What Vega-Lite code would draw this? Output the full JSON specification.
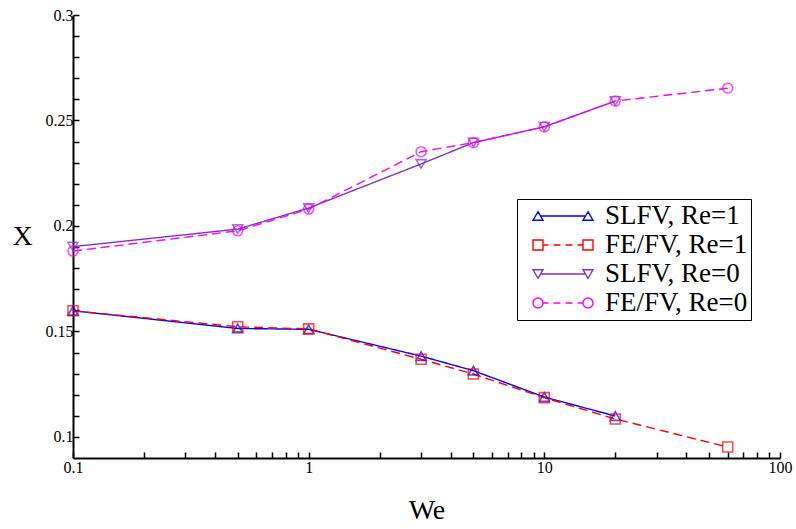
{
  "$schema": "https://vega.github.io/schema/vega-lite/v6.json",
  "width": 707,
  "height": 443,
  "autosize": "none",
  "padding": {"left": 73, "top": 15, "right": 16, "bottom": 71},
  "background": "white",
  "config": {
    "view": {"stroke": null},
    "font": "Liberation Serif",
    "axis": {
      "grid": false,
      "domainColor": "black",
      "domainWidth": 2,
      "tickColor": "black",
      "tickWidth": 1.5,
      "labelColor": "black",
      "labelFont": "Liberation Serif",
      "labelFontSize": 16,
      "titleFont": "Liberation Serif",
      "titleFontSize": 28,
      "titleFontWeight": "normal",
      "titleColor": "black",
      "labelOverlap": false,
      "labelFlush": false
    }
  },
  "data": {
    "values": [
      {"We": 0.1, "X": 0.1598, "series": "SLFV, Re=1"},
      {"We": 0.5, "X": 0.1514, "series": "SLFV, Re=1"},
      {"We": 1, "X": 0.1510, "series": "SLFV, Re=1"},
      {"We": 3, "X": 0.1383, "series": "SLFV, Re=1"},
      {"We": 5, "X": 0.1314, "series": "SLFV, Re=1"},
      {"We": 10, "X": 0.1189, "series": "SLFV, Re=1"},
      {"We": 20, "X": 0.1099, "series": "SLFV, Re=1"},
      {"We": 0.1, "X": 0.1598, "series": "FE/FV, Re=1"},
      {"We": 0.5, "X": 0.1522, "series": "FE/FV, Re=1"},
      {"We": 1, "X": 0.1512, "series": "FE/FV, Re=1"},
      {"We": 3, "X": 0.1368, "series": "FE/FV, Re=1"},
      {"We": 5, "X": 0.1298, "series": "FE/FV, Re=1"},
      {"We": 10, "X": 0.1186, "series": "FE/FV, Re=1"},
      {"We": 20, "X": 0.1085, "series": "FE/FV, Re=1"},
      {"We": 60, "X": 0.0952, "series": "FE/FV, Re=1"},
      {"We": 0.1, "X": 0.1902, "series": "SLFV, Re=0"},
      {"We": 0.5, "X": 0.1985, "series": "SLFV, Re=0"},
      {"We": 1, "X": 0.2085, "series": "SLFV, Re=0"},
      {"We": 3, "X": 0.2294, "series": "SLFV, Re=0"},
      {"We": 5, "X": 0.2395, "series": "SLFV, Re=0"},
      {"We": 10, "X": 0.2470, "series": "SLFV, Re=0"},
      {"We": 20, "X": 0.2592, "series": "SLFV, Re=0"},
      {"We": 0.1, "X": 0.1881, "series": "FE/FV, Re=0"},
      {"We": 0.5, "X": 0.1977, "series": "FE/FV, Re=0"},
      {"We": 1, "X": 0.2080, "series": "FE/FV, Re=0"},
      {"We": 3, "X": 0.2352, "series": "FE/FV, Re=0"},
      {"We": 5, "X": 0.2395, "series": "FE/FV, Re=0"},
      {"We": 10, "X": 0.2470, "series": "FE/FV, Re=0"},
      {"We": 20, "X": 0.2592, "series": "FE/FV, Re=0"},
      {"We": 60, "X": 0.2653, "series": "FE/FV, Re=0"}
    ]
  },
  "encoding": {
    "x": {
      "field": "We",
      "type": "quantitative",
      "scale": {"type": "log", "domain": [0.1, 100], "nice": false},
      "axis": {
        "title": "We",
        "values": [0.1, 0.2, 0.3, 0.4, 0.5, 0.6, 0.7, 0.8, 0.9, 1, 2, 3, 4, 5, 6, 7, 8, 9, 10, 20, 30, 40, 50, 60, 70, 80, 90, 100],
        "format": "~g",
        "labelExpr": "indexof([0.1, 1, 10, 100], datum.value) >= 0 ? datum.label : ''",
        "tickSize": -6,
        "labelPadding": 7,
        "titleY": 52,
        "titleBaseline": "middle"
      }
    },
    "y": {
      "field": "X",
      "type": "quantitative",
      "scale": {"domain": [0.09, 0.3], "nice": false, "zero": false},
      "axis": {
        "title": "X",
        "values": [0.1, 0.11, 0.12, 0.13, 0.14, 0.15, 0.16, 0.17, 0.18, 0.19, 0.2, 0.21, 0.22, 0.23, 0.24, 0.25, 0.26, 0.27, 0.28, 0.29, 0.3],
        "labelExpr": "round(datum.value * 100) % 5 == 0 ? format(datum.value, '.2~f') : ''",
        "tickSize": -6,
        "labelPadding": 6,
        "titleAngle": 0,
        "titleX": -51,
        "titleY": 221.5,
        "titleAlign": "center",
        "titleBaseline": "middle"
      }
    }
  },
  "layer": [
    {
      "mark": {"type": "line", "strokeWidth": 1.4},
      "encoding": {
        "color": {
          "field": "series",
          "type": "nominal",
          "scale": {
            "domain": ["SLFV, Re=1", "FE/FV, Re=1", "SLFV, Re=0", "FE/FV, Re=0"],
            "range": ["#0000ff", "#ff0000", "#7a35c8", "#ff00ff"]
          },
          "legend": null
        },
        "strokeDash": {
          "field": "series",
          "type": "nominal",
          "scale": {
            "domain": ["SLFV, Re=1", "FE/FV, Re=1", "SLFV, Re=0", "FE/FV, Re=0"],
            "range": [[1, 0], [9, 5], [1, 0], [9, 5]]
          },
          "legend": null
        }
      }
    },
    {
      "mark": {"type": "point", "filled": false, "size": 100, "strokeWidth": 1.6},
      "encoding": {
        "color": {
          "field": "series",
          "type": "nominal",
          "scale": {
            "domain": ["SLFV, Re=1", "FE/FV, Re=1", "SLFV, Re=0", "FE/FV, Re=0"],
            "range": ["#0000ff", "#ff0000", "#7a35c8", "#ff00ff"]
          },
          "legend": null
        },
        "shape": {
          "field": "series",
          "type": "nominal",
          "scale": {
            "domain": ["SLFV, Re=1", "FE/FV, Re=1", "SLFV, Re=0", "FE/FV, Re=0"],
            "range": ["triangle-up", "square", "triangle-down", "circle"]
          },
          "legend": null
        }
      }
    },
    {
      "transform": [{"filter": "false"}],
      "mark": {"type": "point", "filled": false, "size": 2500, "strokeWidth": 1.4},
      "encoding": {
        "color": {
          "field": "series",
          "type": "nominal",
          "scale": {
            "domain": ["SLFV, Re=1", "FE/FV, Re=1", "SLFV, Re=0", "FE/FV, Re=0"],
            "range": ["#0000ff", "#ff0000", "#7a35c8", "#ff00ff"]
          },
          "legend": {
            "title": null,
            "orient": "none",
            "legendX": 444,
            "legendY": 184,
            "symbolSize": 2500,
            "symbolOffset": 17,
            "symbolStrokeWidth": 1.4,
            "symbolFillColor": "transparent",
            "symbolOpacity": 1,
            "labelOffset": 16,
            "labelFont": "Liberation Serif",
            "labelFontSize": 27,
            "labelColor": "black",
            "labelBaseline": "middle",
            "labelLimit": 400,
            "clipHeight": 28,
            "rowPadding": 1,
            "padding": 3,
            "fillColor": "white",
            "strokeColor": "black",
            "cornerRadius": 0
          }
        },
        "shape": {
          "field": "series",
          "type": "nominal",
          "scale": {
            "domain": ["SLFV, Re=1", "FE/FV, Re=1", "SLFV, Re=0", "FE/FV, Re=0"],
            "range": [
              "M-0.91,0H0.91M-1,-0.17L-1.2,0.17L-0.8,0.17ZM1,-0.17L0.8,0.17L1.2,0.17Z",
              "M-0.8,0H-0.58M-0.38,0H-0.1M0.1,0H0.38M0.58,0H0.8M-1.2,-0.2H-0.8V0.2H-1.2ZM0.8,-0.2H1.2V0.2H0.8Z",
              "M-0.91,0H0.91M-1,0.17L-1.2,-0.17L-0.8,-0.17ZM1,0.17L0.8,-0.17L1.2,-0.17Z",
              "M-0.8,0H-0.58M-0.38,0H-0.1M0.1,0H0.38M0.58,0H0.8M-0.8,0A0.2,0.2 0 1,1 -1.2,0A0.2,0.2 0 1,1 -0.8,0ZM1.2,0A0.2,0.2 0 1,1 0.8,0A0.2,0.2 0 1,1 1.2,0Z"
            ]
          }
        }
      }
    }
  ],
  "resolve": {
    "scale": {"shape": "independent"},
    "legend": {"color": "independent", "shape": "independent"}
  }
}
